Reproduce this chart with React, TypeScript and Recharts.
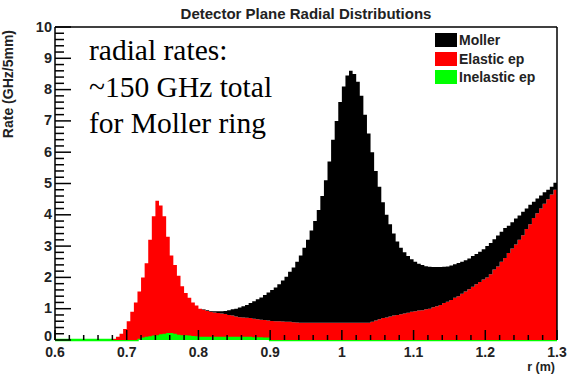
import React from "react";
import { AreaChart, Area, XAxis, YAxis, ReferenceLine, Legend } from "recharts";

// histogram bins: 5 mm wide, starting at r = 0.6 m
const binStart = 0.6;
const binWidth = 0.005;

const moller = [
  0, 0, 0, 0, 0, 0, 0, 0, 0, 0,
  0, 0, 0, 0, 0, 0, 0, 0, 0, 0,
  0, 0, 0, 0, 0, 0, 0, 0, 0, 0,
  0, 0, 0, 0, 0, 0, 0, 0, 0, 0,
  0, 0.01, 0.02, 0.03, 0.04, 0.06, 0.07, 0.1, 0.15, 0.2,
  0.25, 0.31, 0.36, 0.41, 0.48, 0.56, 0.64, 0.71, 0.8, 0.9,
  0.99, 1.08, 1.18, 1.31, 1.44, 1.6, 1.75, 1.94, 2.15, 2.4,
  2.65, 2.95, 3.25, 3.6, 4.05, 4.55, 5.15, 5.85, 6.45, 7.05,
  7.55, 7.9, 8.05, 7.95, 7.7, 7.25, 6.65, 6.05, 5.42, 4.78,
  4.24, 3.7, 3.28, 2.95, 2.62, 2.35, 2.13, 1.95, 1.81, 1.68,
  1.58, 1.5, 1.45, 1.38, 1.34, 1.28, 1.25, 1.21, 1.16, 1.13,
  1.1, 1.07, 1.06, 1.02, 1.0, 0.98, 0.98, 0.97, 0.97, 0.97,
  1.0, 1.0, 0.97, 0.99, 0.96, 0.96, 0.87, 0.84, 0.83, 0.78,
  0.75, 0.65, 0.62, 0.52, 0.47, 0.42, 0.37, 0.3, 0.25, 0.22,
];

const elastic = [
  0, 0, 0, 0, 0, 0, 0, 0, 0, 0,
  0, 0, 0, 0, 0, 0, 0.03, 0.1, 0.2, 0.35,
  0.6, 0.9, 1.2, 1.51, 1.92, 2.35, 3.08, 3.81, 4.3, 4.12,
  3.75, 3.08, 2.48, 2.2, 1.88, 1.57, 1.35, 1.21, 1.07, 0.98,
  0.9, 0.87, 0.83, 0.8, 0.78, 0.76, 0.75, 0.73, 0.7, 0.68,
  0.65, 0.63, 0.62, 0.61, 0.6, 0.59, 0.57, 0.56, 0.56, 0.54,
  0.61, 0.6, 0.6, 0.59, 0.58, 0.58, 0.57, 0.56, 0.55, 0.55,
  0.55, 0.55, 0.55, 0.55, 0.55, 0.55, 0.55, 0.55, 0.55, 0.55,
  0.55, 0.55, 0.55, 0.55, 0.55, 0.55, 0.55, 0.55, 0.58, 0.62,
  0.66, 0.7, 0.72, 0.75, 0.78, 0.8, 0.82, 0.85, 0.87, 0.9,
  0.92, 0.94, 0.95, 0.98, 1.0, 1.05, 1.08, 1.12, 1.18, 1.22,
  1.28, 1.35, 1.4, 1.48, 1.55, 1.62, 1.7, 1.78, 1.85, 1.93,
  2.0, 2.1, 2.25, 2.35, 2.5, 2.62, 2.78, 2.92, 3.05, 3.2,
  3.35, 3.55, 3.7, 3.9, 4.05, 4.2, 4.35, 4.5, 4.65, 4.8,
];

const inelastic = [
  0, 0, 0, 0, 0, 0, 0, 0, 0, 0,
  0, 0, 0, 0, 0, 0, 0, 0, 0, 0,
  0, 0, 0, 0.04, 0.08, 0.1, 0.12, 0.14, 0.15, 0.18,
  0.2, 0.22, 0.22, 0.2, 0.17, 0.15, 0.15, 0.14, 0.13, 0.12,
  0.1, 0.1, 0.1, 0.1, 0.1, 0.1, 0.1, 0.1, 0.1, 0.1,
  0.1, 0.1, 0.1, 0.1, 0.1, 0.09, 0.09, 0.09, 0.08, 0.08,
  0, 0, 0, 0, 0, 0, 0, 0, 0, 0,
  0, 0, 0, 0, 0, 0, 0, 0, 0, 0,
  0, 0, 0, 0, 0, 0, 0, 0, 0, 0,
  0, 0, 0, 0, 0, 0, 0, 0, 0, 0,
  0, 0, 0, 0, 0, 0, 0, 0, 0, 0,
  0, 0, 0, 0, 0, 0, 0, 0, 0, 0,
  0, 0, 0, 0, 0, 0, 0, 0, 0, 0,
  0, 0, 0, 0, 0, 0, 0, 0, 0, 0,
];

const xMajor = [0.6, 0.7, 0.8, 0.9, 1.0, 1.1, 1.2, 1.3];
const xTickLabels = ["0.6", "0.7", "0.8", "0.9", "1", "1.1", "1.2", "1.3"];
const yMajor = [0, 1, 2, 3, 4, 5, 6, 7, 8, 9, 10];
const yTickLabels = ["0", "1", "2", "3", "4", "5", "6", "7", "8", "9", "10"];

const seriesNames = { moller: "Moller", elastic: "Elastic ep", inelastic: "Inelastic ep" };
const colors = { moller: "#000000", elastic: "#ff0000", inelastic: "#00ff00" };

const rows = moller.map((m, i) => ({
  r: +(binStart + i * binWidth).toFixed(3),
  moller: m,
  elastic: elastic[i],
  inelastic: inelastic[i],
}));
// closing edge so the last step reaches r = 1.3
rows.push({ ...rows[rows.length - 1], r: 1.3 });

// 5 subdivisions per major tick (ROOT style)
const withMinor = (major: number[]) => {
  const out: number[] = [];
  major.forEach((v, i) => {
    out.push(v);
    if (i < major.length - 1) {
      const step = (major[i + 1] - v) / 5;
      for (let k = 1; k < 5; k++) out.push(+(v + k * step).toFixed(4));
    }
  });
  return out;
};
const xTicks = withMinor(xMajor);
const yTicks = withMinor(yMajor);

const rootFont = "'Liberation Sans', Arial, sans-serif";

function XTick(props: any) {
  const { x, y, payload } = props;
  const idx = xMajor.findIndex((v) => Math.abs(v - payload.value) < 1e-6);
  const major = idx >= 0;
  return (
    <g>
      <line x1={x} x2={x} y1={y} y2={y - (major ? 10 : 5)} stroke="#000" strokeWidth={1.5} />
      {major && (
        <text x={x} y={y + 17} textAnchor="middle" fontFamily={rootFont} fontWeight="bold" fontSize={14} fill="#222">
          {xTickLabels[idx]}
        </text>
      )}
    </g>
  );
}

function YTick(props: any) {
  const { x, y, payload } = props;
  const idx = yMajor.findIndex((v) => Math.abs(v - payload.value) < 1e-6);
  const major = idx >= 0;
  // the "0" label sits a little higher so it clears the "0.6" below it
  const dy = idx === 0 ? 1 : 4.5;
  return (
    <g>
      <line x1={x} x2={x + (major ? 16 : 9)} y1={y} y2={y} stroke="#000" strokeWidth={1.5} />
      {major && (
        <text x={x - 3} y={y + dy} textAnchor="end" fontFamily={rootFont} fontWeight="bold" fontSize={14.5} fill="#222">
          {yTickLabels[idx]}
        </text>
      )}
    </g>
  );
}

function LegendBox() {
  const keys: (keyof typeof seriesNames)[] = ["moller", "elastic", "inelastic"];
  return (
    <div style={{ fontFamily: rootFont, fontWeight: "bold", fontSize: 14, color: "#222" }}>
      {keys.map((k) => (
        <div key={k} style={{ display: "flex", alignItems: "center", height: 18.5 }}>
          <span style={{ display: "inline-block", width: 22, height: 14, background: colors[k], marginRight: 2 }} />
          <span>{seriesNames[k]}</span>
        </div>
      ))}
    </div>
  );
}

export default function App() {
  return (
    <div style={{ position: "absolute", left: 0, top: 0, width: 571, height: 376, background: "#fff" }}>
      <AreaChart width={571} height={376} data={rows} margin={{ top: 27, right: 14, bottom: 6, left: 0 }}>
        <XAxis
          dataKey="r"
          type="number"
          domain={[0.6, 1.3]}
          ticks={xTicks}
          interval={0}
          tick={<XTick />}
          tickLine={false}
          tickSize={0}
          tickMargin={0}
          axisLine={false}
          height={30}
        />
        <YAxis
          type="number"
          domain={[0, 10]}
          ticks={yTicks}
          interval={0}
          tick={<YTick />}
          tickLine={false}
          tickSize={0}
          tickMargin={0}
          axisLine={{ stroke: "#000", strokeWidth: 1.5 }}
          width={55}
        />
        <Area
          type="stepAfter"
          dataKey="inelastic"
          name={seriesNames.inelastic}
          stackId="h"
          fill={colors.inelastic}
          fillOpacity={1}
          stroke={colors.inelastic}
          strokeWidth={2.5}
          isAnimationActive={false}
          dot={false}
          activeDot={false}
        />
        <Area
          type="stepAfter"
          dataKey="elastic"
          name={seriesNames.elastic}
          stackId="h"
          fill={colors.elastic}
          fillOpacity={1}
          stroke="none"
          isAnimationActive={false}
          dot={false}
          activeDot={false}
        />
        <Area
          type="stepAfter"
          dataKey="moller"
          name={seriesNames.moller}
          stackId="h"
          fill={colors.moller}
          fillOpacity={1}
          stroke="none"
          isAnimationActive={false}
          dot={false}
          activeDot={false}
        />
        <ReferenceLine y={10} stroke="#000" strokeWidth={1.5} />
        <ReferenceLine x={1.3} stroke="#000" strokeWidth={1.5} />
        <Legend
          layout="vertical"
          align="center"
          verticalAlign="middle"
          wrapperStyle={{ left: 435, top: 31, width: 125 }}
          content={() => <LegendBox />}
        />
      </AreaChart>
      <svg width={571} height={376} style={{ position: "absolute", left: 0, top: 0, pointerEvents: "none" }}>
        <text x={306} y={19} textAnchor="middle" fontFamily={rootFont} fontWeight="bold" fontSize={15} fill="#222">
          Detector Plane Radial Distributions
        </text>
        <text
          transform="translate(13,30) rotate(-90)"
          textAnchor="end"
          fontFamily={rootFont}
          fontWeight="bold"
          fontSize={14}
          fill="#222"
        >
          Rate (GHz/5mm)
        </text>
        <text x={555} y={371} textAnchor="end" fontFamily={rootFont} fontWeight="bold" fontSize={12.5} fill="#222">
          r (m)
        </text>
        <g fontFamily="'Liberation Serif', 'Times New Roman', serif" fontSize={29.5} fill="#000">
          <text x={89} y={60}>radial rates:</text>
          <text x={89} y={97}>~150 GHz total</text>
          <text x={89} y={133}>for Moller ring</text>
        </g>
      </svg>
    </div>
  );
}
